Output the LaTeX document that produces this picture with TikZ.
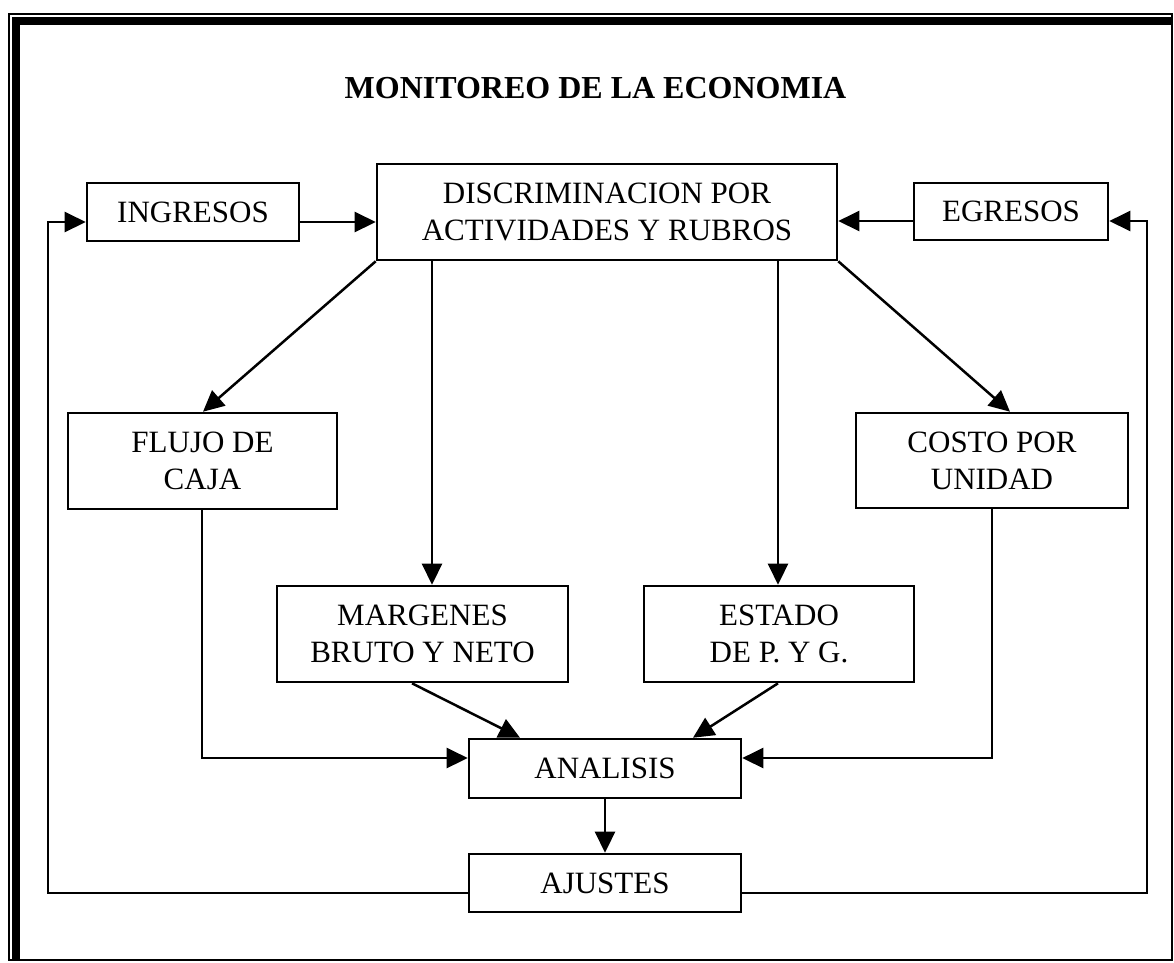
\documentclass[tikz,border=0pt]{standalone}
\usepackage{fontspec}
\setmainfont{Liberation Serif}
\usetikzlibrary{arrows.meta,calc}
\begin{document}
\begin{tikzpicture}[x=1pt,y=-1pt,
  box/.style={draw=black,line width=2.6pt,inner sep=0pt,align=center,
    font=\fontsize{31}{37}\selectfont},
  conn/.style={line width=2.5pt,-{Triangle[length=21pt,width=20pt]}},
  plain/.style={line width=2.5pt}]
\useasboundingbox (0,0) rectangle (1174,962);
% frame
\draw[line width=1.8pt] (9,14) rectangle (1172,960);
\draw[line width=7.5pt] (16,960) -- (16,21) -- (1172,21);
% title
\node[anchor=base,font=\fontsize{32}{38}\selectfont\bfseries] (title) at (595.5,98) {MONITOREO DE LA ECONOMIA};
% boxes
\node[box,minimum width=212pt,minimum height=58pt] (ing) at (193,212) {INGRESOS};
\node[box,minimum width=460pt,minimum height=96pt] (disc) at (607,212) {DISCRIMINACION POR\\ACTIVIDADES Y RUBROS};
\node[box,minimum width=194pt,minimum height=57pt] (egr) at (1011,211.5) {EGRESOS};
\node[box,minimum width=269pt,minimum height=96pt] (flujo) at (202.5,461) {FLUJO DE\\CAJA};
\node[box,minimum width=272pt,minimum height=95pt] (costo) at (992,460.5) {COSTO POR\\UNIDAD};
\node[box,minimum width=291pt,minimum height=96pt] (marg) at (422.5,634) {MARGENES\\BRUTO Y NETO};
\node[box,minimum width=270pt,minimum height=96pt] (estado) at (779,634) {ESTADO\\DE P. Y G.};
\node[box,minimum width=272pt,minimum height=59pt] (anal) at (605,768.5) {ANALISIS};
\node[box,minimum width=272pt,minimum height=58pt] (ajus) at (605,883) {AJUSTES};
% helper coordinates
\coordinate (yl) at (0,222);
\coordinate (yr) at (0,221);
\coordinate (ya) at (0,758);
\coordinate (yj) at (0,893);
\coordinate (xl) at (48,0);
\coordinate (xr) at (1147,0);
\coordinate (xf) at (202,0);
\coordinate (xc) at (992,0);
\coordinate (xm) at (432,0);
\coordinate (xe) at (778,0);
% top arrows
\draw[conn] (ing.east |- yl) -- (disc.west |- yl);
\draw[conn] (egr.west |- yr) -- (disc.east |- yr);
% feedback loops
\draw[conn] (ajus.west |- yj) -- (xl |- yj) -- (xl |- yl) -- (ing.west |- yl);
\draw[conn] (ajus.east |- yj) -- (xr |- yj) -- (xr |- yr) -- (egr.east |- yr);
% diagonals from disc
\draw[conn] (disc.south west) -- (flujo.north -| 203,0);
\draw[conn] (disc.south east) -- (costo.north -| 1010,0);
% verticals from disc
\draw[conn] (disc.south -| xm) -- (marg.north -| xm);
\draw[conn] (disc.south -| xe) -- (estado.north -| xe);
% to analisis
\draw[conn] (flujo.south -| xf) -- (xf |- ya) -- (anal.west |- ya);
\draw[conn] (costo.south -| xc) -- (xc |- ya) -- (anal.east |- ya);
\draw[conn] (marg.south -| 412,0) -- (anal.north -| 520,0);
\draw[conn] (estado.south -| 778,0) -- (anal.north -| 693,0);
\draw[conn] (anal.south) -- (ajus.north);
\end{tikzpicture}
\end{document}
